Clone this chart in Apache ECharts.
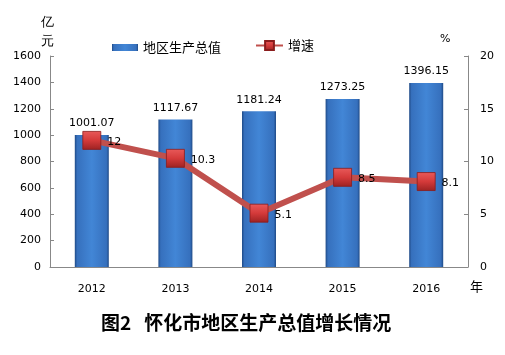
<!DOCTYPE html>
<html><head><meta charset="utf-8">
<script src="https://cdn.jsdelivr.net/npm/echarts@6/dist/echarts.min.js"></script>
<style>html,body{margin:0;padding:0;background:#fff}#c{width:505px;height:355px}</style>
</head><body><div id="c"></div>
<script>
var years = ['2012','2013','2014','2015','2016'];
var gdp = [1001.07, 1117.67, 1181.24, 1273.25, 1396.15];
var growth = [12, 10.3, 5.1, 8.5, 8.1];
var leftTicks = {min: 0, max: 1600, interval: 200};
var rightTicks = {min: 0, max: 20, interval: 5};

var chart = echarts.init(document.getElementById('c'));
var barFill = new echarts.graphic.LinearGradient(0, 0, 1, 0, [
  {offset: 0, color: '#1f4a86'},
  {offset: 0.07, color: '#3670bd'},
  {offset: 0.5, color: '#4286d6'},
  {offset: 0.93, color: '#3670bd'},
  {offset: 1, color: '#1f4a86'}
]);
var markFill = new echarts.graphic.LinearGradient(0, 0, 0, 1, [
  {offset: 0, color: '#e85a5a'},
  {offset: 0.5, color: '#d43a3a'},
  {offset: 1, color: '#9c2222'}
]);
var font = 'DejaVu Sans';
var plain = function (v) { return String(v); };
chart.setOption({
  animation: false,
  textStyle: {fontFamily: font},
  grid: {left: 50, right: 37, top: 56, bottom: 88},
  legend: [{
    data: [{name: '地区生产总值', icon: 'rect'}],
    left: 107, top: 36, itemWidth: 26, itemHeight: 7, itemGap: 4,
    textStyle: {fontSize: 13, color: '#000', fontFamily: 'Noto Sans CJK SC'}
  }, {
    data: ['增速'],
    left: 250, top: 34, itemWidth: 27, itemHeight: 11,
    textStyle: {fontSize: 13, color: '#000', fontFamily: 'Noto Sans CJK SC'}
  }],
  title: {
    text: '图2   怀化市地区生产总值增长情况',
    left: 96, top: 308,
    textStyle: {fontSize: 19, fontWeight: 'bold', color: '#000', fontFamily: 'Noto Sans CJK SC'}
  },
  graphic: [
    {type: 'text', left: 41, top: 13, style: {text: '亿\n元', fontSize: 13, lineHeight: 19, fill: '#000', font: '13px "Noto Sans CJK SC"'}},
    {type: 'text', left: 440, top: 34, style: {text: '%', fill: '#000', font: '11px "DejaVu Sans"'}},
    {type: 'text', left: 470, top: 280, style: {text: '年', fill: '#000', font: '13px "Noto Sans CJK SC"'}}
  ],
  xAxis: {
    type: 'category', data: years,
    axisLine: {lineStyle: {color: '#888', width: 1}},
    axisTick: {inside: true, length: 4, lineStyle: {color: '#888'}},
    axisLabel: {color: '#000', fontSize: 11, fontFamily: font, margin: 17}
  },
  yAxis: [{
    type: 'value', min: leftTicks.min, max: leftTicks.max, interval: leftTicks.interval,
    splitLine: {show: false},
    axisLine: {show: true, lineStyle: {color: '#888'}},
    axisTick: {show: true, inside: true, length: 4, lineStyle: {color: '#888'}},
    axisLabel: {color: '#000', fontSize: 11, fontFamily: font, margin: 9, formatter: plain}
  }, {
    type: 'value', min: rightTicks.min, max: rightTicks.max, interval: rightTicks.interval,
    splitLine: {show: false},
    axisLine: {show: true, lineStyle: {color: '#888'}},
    axisTick: {show: true, inside: true, length: 4, lineStyle: {color: '#888'}},
    axisLabel: {color: '#000', fontSize: 11, fontFamily: font, margin: 12, formatter: plain}
  }],
  series: [{
    name: '地区生产总值', type: 'bar', data: gdp, barWidth: 34,
    itemStyle: {color: barFill},
    label: {show: true, position: 'top', distance: 6, color: '#000', fontSize: 11, fontFamily: font}
  }, {
    name: '增速', type: 'line', yAxisIndex: 1, data: growth,
    lineStyle: {color: '#c0504d', width: 6},
    symbol: 'rect', symbolSize: 18,
    itemStyle: {color: markFill, borderColor: '#8a1c1c', borderWidth: 0.8},
    label: {show: true, position: 'right', distance: 6, offset: [0, 2], color: '#000', fontSize: 11, fontFamily: font}
  }]
});
</script></body></html>
